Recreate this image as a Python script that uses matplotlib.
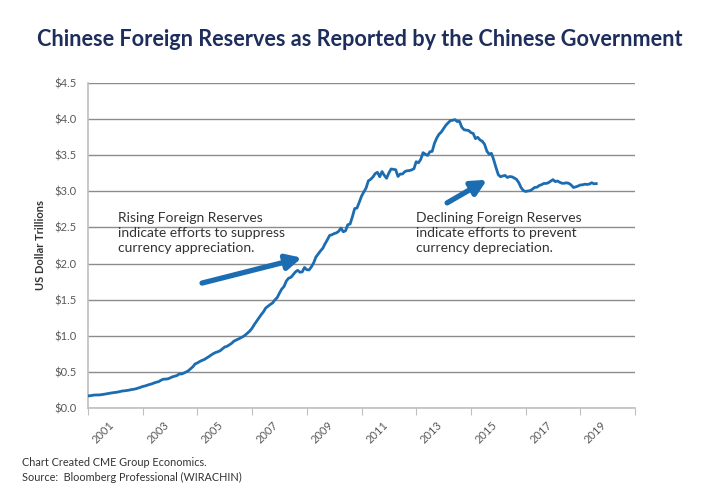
import numpy as np
import matplotlib
matplotlib.use('Agg')
import matplotlib.pyplot as plt

plt.rcParams['font.family'] = ['Lato', 'DejaVu Sans']

# monthly reserves, USD billions, Jan 2001 .. Aug 2019
r2001 = [168, 170, 176, 180, 180, 181, 185, 190, 196, 202, 207, 212]
r2002 = [216, 220, 228, 235, 238, 243, 247, 255, 259, 266, 276, 286]
r2003 = [298, 305, 316, 326, 334, 347, 357, 365, 384, 398, 401, 403]
r2004 = [416, 431, 440, 449, 471, 471, 483, 498, 515, 542, 571, 610]
r2005 = [624, 643, 659, 671, 691, 711, 733, 753, 769, 779, 794, 819]
r2006 = [845, 854, 875, 895, 925, 941, 955, 972, 988, 1010, 1039, 1066]
r2007 = [1105, 1157, 1202, 1247, 1293, 1333, 1385, 1409, 1434, 1455, 1497, 1528]
r2008 = [1590, 1647, 1682, 1757, 1797, 1809, 1845, 1884, 1906, 1880, 1885, 1946]
r2009 = [1914, 1912, 1954, 2009, 2090, 2132, 2175, 2211, 2273, 2328, 2389, 2399]
r2010 = [2415, 2425, 2447, 2491, 2440, 2454, 2538, 2548, 2648, 2761, 2768, 2847]
r2011 = [2932, 2991, 3045, 3145, 3166, 3198, 3245, 3263, 3202, 3274, 3221, 3181]
r2012 = [3254, 3310, 3305, 3299, 3206, 3240, 3240, 3273, 3285, 3287, 3297, 3312]
r2013 = [3410, 3395, 3443, 3535, 3515, 3497, 3548, 3553, 3663, 3737, 3790, 3821]
r2014 = [3867, 3914, 3948, 3979, 3984, 3993, 3966, 3969, 3888, 3853, 3847, 3843]
r2015 = [3813, 3802, 3730, 3748, 3711, 3694, 3651, 3557, 3514, 3526, 3438, 3330]
r2016 = [3231, 3202, 3213, 3220, 3192, 3205, 3201, 3185, 3166, 3121, 3052, 3011]
r2017 = [2998, 3005, 3009, 3030, 3054, 3057, 3081, 3092, 3109, 3109, 3119, 3140]
r2018 = [3162, 3135, 3143, 3125, 3111, 3112, 3118, 3110, 3087, 3053, 3062, 3073]
r2019 = [3088, 3090, 3099, 3095, 3101, 3119, 3104, 3107]

reserves = (r2001 + r2002 + r2003 + r2004 + r2005 + r2006 + r2007 + r2008 + r2009
            + r2010 + r2011 + r2012 + r2013 + r2014 + r2015 + r2016 + r2017
            + r2018 + r2019)
years = [2001, 2003, 2005, 2007, 2009, 2011, 2013, 2015, 2017, 2019]
y_ticks = [0.0, 0.5, 1.0, 1.5, 2.0, 2.5, 3.0, 3.5, 4.0, 4.5]

t = 2001 + np.arange(len(reserves)) / 12.0
vals = np.array(reserves) / 1000.0

blue = '#1b6cb0'
grey_txt = '#595959'

fig = plt.figure(figsize=(7.2, 5), dpi=100)
ax = fig.add_axes([88 / 720, 92 / 500, 547 / 720, 325 / 500])

ax.plot(t, vals, color=blue, lw=2.0, zorder=3)

ax.set_xlim(2001, 2021)
ax.set_ylim(0, 4.5)
ax.set_yticks(y_ticks)
ax.set_yticklabels(['${:.1f}'.format(v) for v in y_ticks], fontsize=8, color=grey_txt)
ax.tick_params(axis='y', length=0, pad=8)
ax.grid(axis='y', color='#8c8c8c', lw=1)
ax.set_axisbelow(True)

ax.set_xticks(range(2001, 2022, 2))
ax.set_xticklabels([])
ax.set_xticks([y + 0.75 for y in years], minor=True)
ax.set_xticklabels([str(y) for y in years], minor=True, rotation=45, ha='right',
                   va='top', rotation_mode='anchor', fontsize=8, color=grey_txt)
ax.tick_params(axis='x', which='major', length=5, color='#bfbfbf', direction='out')
ax.tick_params(axis='x', which='minor', length=0, pad=8)

for s in ['top', 'right']:
    ax.spines[s].set_visible(False)
ax.spines['left'].set_color('#bfbfbf')
ax.spines['bottom'].set_color('#bfbfbf')
ax.spines['left'].set_linewidth(1.2)
ax.spines['bottom'].set_linewidth(1.2)

ax.set_ylabel('US Dollar Trillions', fontsize=8, color='#333333', fontweight='bold', labelpad=6)

ax.text(2002.1, 2.72, 'Rising Foreign Reserves\nindicate efforts to suppress\ncurrency appreciation.',
        fontsize=10, color='#333333', va='top', ha='left', linespacing=1.3)
ax.text(2013.0, 2.72, 'Declining Foreign Reserves\nindicate efforts to prevent\ncurrency depreciation.',
        fontsize=10, color='#333333', va='top', ha='left', linespacing=1.3)

arrow = dict(arrowstyle='-|>,head_length=0.9,head_width=0.45', color=blue, lw=3.8,
             shrinkA=0, shrinkB=0)
ax.annotate('', xy=(2008.82, 2.08), xytext=(2005.17, 1.73), arrowprops=arrow)
ax.annotate('', xy=(2015.59, 3.16), xytext=(2014.13, 2.84), arrowprops=arrow)

fig.text(0.5, 0.922, 'Chinese Foreign Reserves as Reported by the Chinese Government',
         ha='center', va='center', fontsize=15.6, fontweight='bold', color='#1d2d5c')
fig.text(22 / 720, 1 - 463 / 500, 'Chart Created CME Group Economics.',
         fontsize=7.8, color='#333333', va='center')
fig.text(22 / 720, 1 - 477 / 500, 'Source:  Bloomberg Professional (WIRACHIN)',
         fontsize=7.8, color='#333333', va='center')

fig.savefig('out.png', dpi=100)
